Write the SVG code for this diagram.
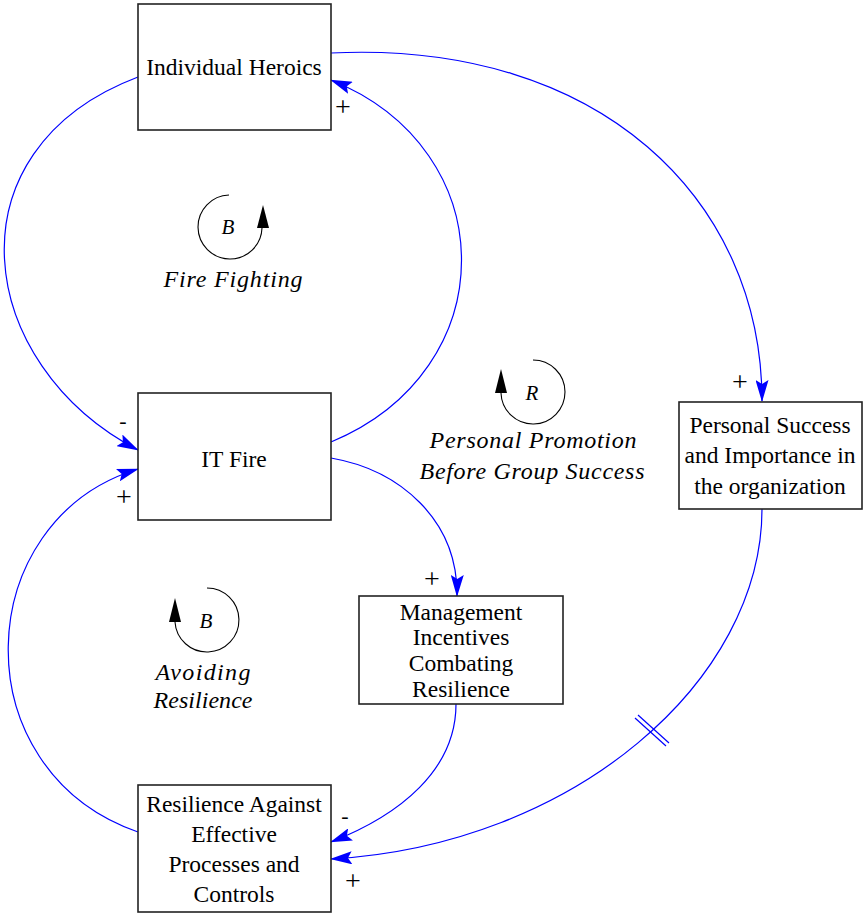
<svg xmlns="http://www.w3.org/2000/svg" width="866" height="914" viewBox="0 0 866 914">
  <style>
    .box { fill: #ffffff; stroke: #222222; stroke-width: 1.6; }
    .lbl { font-family: "Liberation Serif", "Times New Roman", serif; font-size: 23.5px; fill: #000000; text-anchor: middle; }
    .loopname { font-family: "Liberation Serif", "Times New Roman", serif; font-size: 24px; font-style: italic; fill: #000000; text-anchor: middle; }
    .loopsym { font-family: "Liberation Serif", "Times New Roman", serif; font-size: 21px; font-style: italic; fill: #000000; text-anchor: middle; }
    .pol { font-family: "Liberation Serif", "Times New Roman", serif; font-size: 28px; fill: #000000; text-anchor: middle; }
    .neg { font-family: "Liberation Serif", "Times New Roman", serif; font-size: 22px; fill: #000000; text-anchor: middle; }
    .link { fill: none; stroke: #0000ff; stroke-width: 1.2; marker-end: url(#arrow); }
    .delay { fill: none; stroke: #0000ff; stroke-width: 1.2; }
    .looparc { fill: none; stroke: #000000; stroke-width: 1.1; }
    .loophead { fill: #000000; }
  </style>
  <defs>
    <marker id="arrow" markerUnits="userSpaceOnUse" viewBox="0 0 22 13" refX="21" refY="6.5" markerWidth="22" markerHeight="13" orient="auto">
      <path d="M0,0 L22,6.5 L0,13 L4,6.5 Z" fill="#0000ff"/>
    </marker>
  </defs>

  <!-- causal links -->
  <g id="connectors">
    <!-- Individual Heroics -> IT Fire (-) -->
    <path class="link" d="M138,77 C-55,150 -25,365 138,450"/>
    <!-- IT Fire -> Individual Heroics (+) -->
    <path class="link" d="M331,442 C505,370 505,150 331,80"/>
    <!-- Individual Heroics -> Personal Success (+) -->
    <path class="link" d="M331,53 C600,40 762,200 762,401"/>
    <!-- IT Fire -> Management Incentives (+) -->
    <path class="link" d="M331,458 C400,470 458,520 457,596"/>
    <!-- Management Incentives -> Resilience (-) -->
    <path class="link" d="M456,704 C456,770 400,815 331,842"/>
    <!-- Personal Success -> Resilience (+, delayed) -->
    <path class="link" d="M762,509 C762,680 575,845 331,859"/>
    <!-- delay mark -->
    <line class="delay" x1="638" y1="715" x2="669" y2="743"/>
    <line class="delay" x1="635" y1="718" x2="666" y2="746"/>
    <!-- Resilience -> IT Fire (+) -->
    <path class="link" d="M138,832 C-40,770 -30,520 138,469"/>
  </g>

  <!-- polarity signs -->
  <g id="polarities">
    <text class="pol" x="343" y="116">+</text>
    <text class="pol" x="740" y="391">+</text>
    <text class="neg" x="123" y="428">-</text>
    <text class="pol" x="124" y="506">+</text>
    <text class="pol" x="432" y="588">+</text>
    <text class="neg" x="345" y="823">-</text>
    <text class="pol" x="353" y="890">+</text>
  </g>

  <g id="individual-heroics">
    <rect class="box" x="138" y="4" width="193" height="126"/>
    <text class="lbl" x="234" y="75">Individual Heroics</text>
  </g>

  <g id="it-fire">
    <rect class="box" x="138" y="393" width="193" height="127"/>
    <text class="lbl" x="234" y="467">IT Fire</text>
  </g>

  <g id="personal-success">
    <rect class="box" x="679" y="402" width="183" height="107"/>
    <text class="lbl" x="770" y="433">Personal Success</text>
    <text class="lbl" x="770" y="463">and Importance in</text>
    <text class="lbl" x="770" y="494">the organization</text>
  </g>

  <g id="management-incentives">
    <rect class="box" x="359" y="596" width="204" height="108"/>
    <text class="lbl" x="461" y="620">Management</text>
    <text class="lbl" x="461" y="645">Incentives</text>
    <text class="lbl" x="461" y="671">Combating</text>
    <text class="lbl" x="461" y="697">Resilience</text>
  </g>

  <g id="resilience">
    <rect class="box" x="138" y="785" width="193" height="127"/>
    <text class="lbl" x="234" y="812">Resilience Against</text>
    <text class="lbl" x="234" y="842">Effective</text>
    <text class="lbl" x="234" y="872">Processes and</text>
    <text class="lbl" x="234" y="902">Controls</text>
  </g>

  <!-- loop identifiers -->
  <g id="loop-fire-fighting">
    <path class="looparc" d="M229,195 A32,32 0 1 0 262,228"/>
    <path class="loophead" d="M263,205 L269,228 L257,228 Z"/>
    <text class="loopsym" x="228" y="234">B</text>
    <text class="loopname" x="233" y="287" textLength="139" lengthAdjust="spacing">Fire Fighting</text>
  </g>

  <g id="loop-personal-promotion">
    <path class="looparc" d="M533,360 A32,32 0 1 1 501,393"/>
    <path class="loophead" d="M501,369 L507,393 L495,393 Z"/>
    <text class="loopsym" x="532" y="400">R</text>
    <text class="loopname" x="533" y="448" textLength="207" lengthAdjust="spacing">Personal Promotion</text>
    <text class="loopname" x="532" y="479" textLength="225" lengthAdjust="spacing">Before Group Success</text>
  </g>

  <g id="loop-avoiding-resilience">
    <path class="looparc" d="M207,588 A32,32 0 1 1 175,622"/>
    <path class="loophead" d="M175,598 L181,622 L169,622 Z"/>
    <text class="loopsym" x="206" y="628">B</text>
    <text class="loopname" x="203" y="680" textLength="95" lengthAdjust="spacing">Avoiding</text>
    <text class="loopname" x="203" y="708" textLength="99" lengthAdjust="spacing">Resilience</text>
  </g>
</svg>
